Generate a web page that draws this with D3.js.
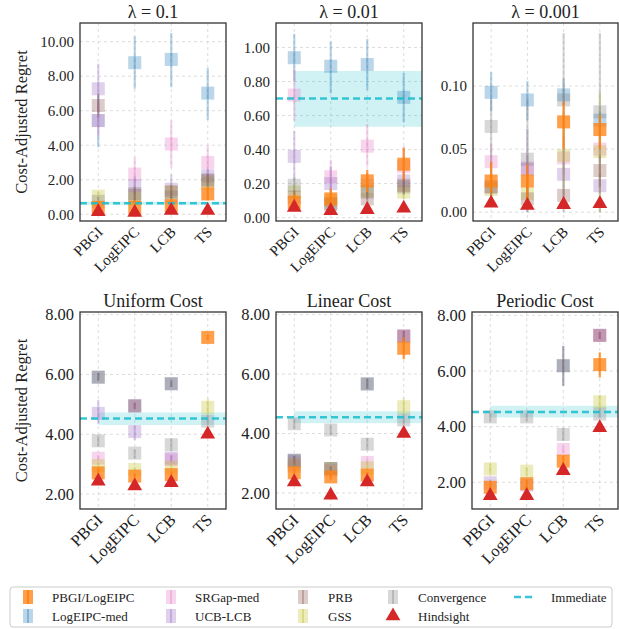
<!DOCTYPE html>
<html><head><meta charset="utf-8">
<script src="https://cdn.jsdelivr.net/npm/d3@7"></script>
<style>body{margin:0;background:#fff} svg text{font-family:"Liberation Serif",serif !important;fill:#222}</style>
</head><body><svg id="c" width="619" height="629" font-family="Liberation Serif"></svg>
<script>
const categories = ["PBGI","LogEIPC","LCB","TS"];
const seriesNames = ["PBGI/LogEIPC","LogEIPC-med","SRGap-med","UCB-LCB","PRB","GSS","Convergence"];
const seriesColors = ["#ff7f0e","#1f77b4","#e377c2","#9467bd","#8c564b","#bcbd22","#7f7f7f"];
const panelTitles = ["λ = 0.1","λ = 0.01","λ = 0.001","Uniform Cost","Linear Cost","Periodic Cost"];
const yTicks1 = [0,2,4,6,8,10];
const yTicks2 = [0,0.2,0.4,0.6,0.8,1.0];
const yTicks3 = [0,0.05,0.10];
const yTicksCost = [2,4,6,8];

// values: rows = series (same order as seriesNames), columns = categories
const val1 = [[0.40,0.40,0.50,1.18],[5.43,8.78,8.97,7.02],[5.43,2.33,4.07,3.00],[7.27,1.65,1.45,2.23],[6.30,1.10,1.30,1.94],[1.05,0.90,1.26,1.80],[0.75,1.20,1.00,2.00]];
const lo1  = [[0.15,0.15,0.20,0.80],[3.88,7.27,7.36,5.47],[4.50,1.40,2.71,2.30],[5.90,1.10,0.90,1.80],[5.60,0.70,0.90,1.60],[0.80,0.60,0.90,1.50],[0.50,0.80,0.70,1.70]];
const hi1  = [[0.75,0.80,0.90,1.60],[6.90,10.30,10.50,8.47],[6.40,3.30,5.43,3.97],[8.72,2.20,2.30,2.60],[7.00,1.50,1.70,2.30],[1.30,1.30,1.80,2.10],[1.00,1.60,1.40,2.30]];
const hind1 = [0.15,0.10,0.22,0.22];
const imm1 = [0.64,0.55,0.73];

const val2 = [[0.09,0.11,0.216,0.314],[0.94,0.89,0.90,0.707],[0.72,0.24,0.42,0.30],[0.36,0.20,0.19,0.216],[0.12,0.08,0.11,0.19],[0.15,0.10,0.157,0.15],[0.19,0.08,0.15,0.18]];
const lo2  = [[0.05,0.05,0.15,0.22],[0.80,0.73,0.75,0.56],[0.57,0.15,0.30,0.25],[0.22,0.12,0.14,0.16],[0.08,0.05,0.07,0.14],[0.10,0.06,0.12,0.11],[0.13,0.05,0.11,0.13]];
const hi2  = [[0.14,0.17,0.28,0.41],[1.08,1.035,1.05,0.85],[0.87,0.34,0.55,0.42],[0.51,0.30,0.26,0.27],[0.16,0.12,0.15,0.24],[0.20,0.14,0.20,0.19],[0.24,0.12,0.20,0.23]];
const hind2 = [0.060,0.040,0.047,0.055];
const imm2 = [0.70,0.534,0.862];

const val3 = [[0.0247,0.0247,0.0716,0.0655],[0.095,0.089,0.093,0.073],[0.040,0.035,0.043,0.050],[0.020,0.034,0.030,0.021],[0.020,0.0106,0.0133,0.033],[0.018,0.0146,0.045,0.048],[0.068,0.042,0.089,0.0796]];
const lo3  = [[0.015,0.008,0.050,0.050],[0.080,0.073,0.085,0.060],[0.030,0.025,0.030,0.040],[0.012,0.000,0.020,0.015],[0.012,0.005,0.005,0.020],[0.010,0.005,0.020,0.000],[0.030,0.000,0.000,0.000]];
const hi3  = [[0.040,0.038,0.0875,0.077],[0.111,0.104,0.106,0.080],[0.054,0.045,0.060,0.060],[0.030,0.066,0.040,0.030],[0.030,0.020,0.020,0.045],[0.030,0.025,0.080,0.095],[0.090,0.090,0.142,0.142]];
const hind3 = [0.007,0.0053,0.006,0.0066];
const imm3 = null;

const val4 = [[2.71,2.60,2.65,7.24],[5.91,4.95,5.69,null],[3.20,4.95,3.15,null],[4.70,4.09,3.20,null],[5.91,4.95,5.69,null],[2.95,2.82,2.90,4.90],[3.78,3.37,3.65,4.44]];
const lo4  = [[2.55,2.50,2.55,7.15],[5.80,4.85,5.58,null],[3.10,4.85,3.05,null],[4.35,3.80,3.10,null],[5.80,4.85,5.58,null],[2.85,2.75,2.80,4.60],[3.60,3.20,3.45,4.30]];
const hi4  = [[2.85,2.70,2.75,7.33],[6.05,5.05,5.80,null],[3.30,5.05,3.30,null],[5.15,4.30,3.30,null],[6.05,5.05,5.80,null],[3.05,2.90,3.00,5.20],[3.95,3.50,3.85,4.60]];
const hind4 = [2.43,2.27,2.38,4.00];
const imm4 = [4.53,4.31,4.73];

const val5 = [[2.68,2.54,2.60,6.87],[3.10,2.82,5.67,null],[2.90,2.75,3.03,7.28],[3.05,null,null,7.28],[3.10,2.82,5.67,7.28],[2.95,2.82,2.85,4.90],[4.33,4.12,3.64,4.46]];
const lo5  = [[2.55,2.45,2.50,6.50],[2.95,2.75,5.50,null],[2.80,2.65,2.95,7.10],[2.90,null,null,7.10],[2.95,2.75,5.50,7.10],[2.85,2.75,2.75,4.60],[4.15,3.95,3.45,4.30]];
const hi5  = [[2.80,2.65,2.70,7.23],[3.25,2.90,5.85,null],[3.00,2.85,3.15,7.45],[3.20,null,null,7.45],[3.25,2.90,5.85,7.45],[3.05,2.90,2.95,5.20],[4.50,4.30,3.85,4.60]];
const hind5 = [2.37,1.92,2.37,4.00];
const imm5 = [4.55,4.35,4.75];

const val6 = [[1.82,1.95,2.76,6.23],[null,null,6.19,null],[null,null,3.18,7.28],[1.98,1.90,null,7.28],[null,null,6.19,7.28],[2.48,2.40,null,4.89],[4.35,4.35,3.72,4.45]];
const lo6  = [[1.65,1.75,2.60,5.77],[null,null,5.47,null],[null,null,3.05,7.15],[1.85,1.75,null,7.15],[null,null,5.47,7.15],[2.30,2.25,null,4.60],[4.20,4.20,3.50,4.30]];
const hi6  = [[2.00,2.10,2.95,6.67],[null,null,6.90,null],[null,null,3.30,7.40],[2.10,2.05,null,7.40],[null,null,6.90,7.40],[2.65,2.55,null,5.15],[4.50,4.50,3.95,4.60]];
const hind6 = [1.52,1.52,2.42,3.96];
const imm6 = [4.53,4.33,4.75];

const panelData = [
  {val:val1,lo:lo1,hi:hi1,hind:hind1,imm:imm1,ticks:yTicks1},
  {val:val2,lo:lo2,hi:hi2,hind:hind2,imm:imm2,ticks:yTicks2},
  {val:val3,lo:lo3,hi:hi3,hind:hind3,imm:imm3,ticks:yTicks3},
  {val:val4,lo:lo4,hi:hi4,hind:hind4,imm:imm4,ticks:yTicksCost},
  {val:val5,lo:lo5,hi:hi5,hind:hind5,imm:imm5,ticks:yTicksCost},
  {val:val6,lo:lo6,hi:hi6,hind:hind6,imm:imm6,ticks:yTicksCost}
];
// layout (positions only)
const layout = [
  {x0:80,x1:226,y0:23,y1:221,dom:[-0.39,11.08],fs:15,band:[-0.5,3.5]},
  {x0:276,x1:422,y0:23,y1:221,dom:[-0.02,1.144],fs:15,band:[0,3.5]},
  {x0:473,x1:618,y0:23,y1:221,dom:[-0.007,0.150],fs:15,band:[0,3.5]},
  {x0:80,x1:226,y0:312,y1:509,dom:[1.5,8.09],fs:16.5,band:[0,3.5]},
  {x0:276,x1:422,y0:312,y1:509,dom:[1.46,8.09],fs:16.5,band:[0,3.5]},
  {x0:472,x1:618,y0:312,y1:509,dom:[1.04,8.12],fs:16.5,band:[0,3.5]}
];
const FONT = '"Liberation Serif", serif';

const svg = d3.select("#c");
const drawOrder = [1,2,3,5,6,4,0];
const sq = 13;

panelData.forEach((pd, pi) => {
  const L = layout[pi];
  const x = d3.scaleLinear().domain([-0.5,3.5]).range([L.x0,L.x1]);
  const y = d3.scaleLinear().domain(L.dom).range([L.y1,L.y0]);
  const g = svg.append("g");
  const clipId = "clip"+pi;
  g.append("clipPath").attr("id",clipId).append("rect")
    .attr("x",L.x0).attr("y",L.y0).attr("width",L.x1-L.x0).attr("height",L.y1-L.y0);
  // grid
  const grid = g.append("g").attr("stroke","#d4d4d4").attr("stroke-width",0.8).attr("stroke-dasharray","3,3");
  pd.ticks.forEach(t => grid.append("line").attr("x1",L.x0).attr("x2",L.x1).attr("y1",y(t)).attr("y2",y(t)));
  categories.forEach((c,i) => grid.append("line").attr("x1",x(i)).attr("x2",x(i)).attr("y1",L.y0).attr("y2",L.y1));
  // y axis
  const ya = d3.axisLeft(y).tickValues(pd.ticks).tickFormat(d3.format(".2f")).tickSize(0).tickPadding(6);
  const yg = g.append("g").attr("transform",`translate(${L.x0},0)`).call(ya).attr("font-family",FONT);
  yg.select(".domain").remove();
  yg.selectAll("text").style("font-size",L.fs+"px").attr("fill","#222").style("font-family",FONT);
  // x axis labels
  const xa = d3.axisBottom(x).tickValues([0,1,2,3]).tickFormat(i=>categories[i]).tickSize(0);
  const xg = g.append("g").attr("transform",`translate(0,${L.y1})`).call(xa).attr("font-family",FONT);
  xg.select(".domain").remove();
  xg.selectAll("text").style("font-size",L.fs+"px").attr("fill","#222").style("font-family",FONT)
    .attr("text-anchor","end").attr("y",0).attr("dy",0)
    .attr("transform","translate(5,12) rotate(-45)");
  const pg = g.append("g").attr("clip-path",`url(#${clipId})`);
  // immediate band
  if (pd.imm) {
    pg.append("rect").attr("x",x(L.band[0])).attr("width",x(L.band[1])-x(L.band[0]))
      .attr("y",y(pd.imm[2])).attr("height",y(pd.imm[1])-y(pd.imm[2]))
      .attr("fill","#17becf").attr("opacity",0.2);
  }
  // series
  drawOrder.forEach(s => {
    const col = seriesColors[s];
    const op = s===0 ? 0.75 : 0.3;
    categories.forEach((c,i) => {
      const v = pd.val[s][i];
      if (v==null) return;
      pg.append("rect").attr("x",x(i)-sq/2).attr("y",y(v)-sq/2).attr("width",sq).attr("height",sq)
        .attr("fill",col).attr("opacity",op);
      pg.append("line").attr("x1",x(i)).attr("x2",x(i)).attr("y1",y(pd.lo[s][i])).attr("y2",y(pd.hi[s][i]))
        .attr("stroke",col).attr("stroke-width",2.2).attr("opacity",s===0?0.8:0.32);
    });
  });
  if (pd.imm) {
    pg.append("line").attr("x1",L.x0).attr("x2",L.x1).attr("y1",y(pd.imm[0])).attr("y2",y(pd.imm[0]))
      .attr("stroke","#17becf").attr("stroke-width",2.5).attr("stroke-dasharray","7,4").attr("opacity",0.85);
  }
  // hindsight
  const tri = d3.symbol().type(d3.symbolTriangle).size(95);
  pd.hind.forEach((v,i) => {
    pg.append("path").attr("d",tri()).attr("transform",`translate(${x(i)},${y(v)})`).attr("fill","#d62728");
  });
  // frame
  g.append("rect").attr("x",L.x0).attr("y",L.y0).attr("width",L.x1-L.x0).attr("height",L.y1-L.y0)
    .attr("fill","none").attr("stroke","#333").attr("stroke-width",1.3);
  // title
  g.append("text").attr("x",(L.x0+L.x1)/2).attr("y",L.y0-5).attr("text-anchor","middle")
    .style("font-size","18px").style("font-family",FONT).text(panelTitles[pi]);
  if (pi===0 || pi===3) {
    g.append("text").attr("transform",`translate(27,${(L.y0+L.y1)/2}) rotate(-90)`)
      .attr("text-anchor","middle").style("font-size","16.5px").style("font-family",FONT).text("Cost-Adjusted Regret");
  }
});

// legend
const lg = svg.append("g");
lg.append("rect").attr("x",10).attr("y",587).attr("width",602).attr("height",40).attr("rx",3)
  .attr("fill","#fff").attr("stroke","#cccccc").attr("stroke-width",1);
const legItems = [
  {name:seriesNames[0],s:0,mx:28,tx:52,row:0},
  {name:seriesNames[1],s:1,mx:28,tx:52,row:1},
  {name:seriesNames[2],s:2,mx:171,tx:195,row:0},
  {name:seriesNames[3],s:3,mx:171,tx:195,row:1},
  {name:seriesNames[4],s:4,mx:303,tx:328,row:0},
  {name:seriesNames[5],s:5,mx:303,tx:328,row:1},
  {name:seriesNames[6],s:6,mx:393,tx:418,row:0},
  {name:"Hindsight",s:-1,mx:393,tx:418,row:1},
  {name:"Immediate",s:-2,mx:525,tx:551,row:0}
];
const rowY = [597,616];
legItems.forEach(it => {
  const cy = rowY[it.row];
  if (it.s>=0) {
    const col = seriesColors[it.s];
    lg.append("rect").attr("x",it.mx-5).attr("y",cy-7).attr("width",10).attr("height",14)
      .attr("fill",col).attr("opacity",it.s===0?0.75:0.3);
    lg.append("line").attr("x1",it.mx).attr("x2",it.mx).attr("y1",cy-7).attr("y2",cy+7)
      .attr("stroke",col).attr("stroke-width",2).attr("opacity",it.s===0?0.8:0.35);
  } else if (it.s===-1) {
    lg.append("path").attr("d",d3.symbol().type(d3.symbolTriangle).size(95)()).attr("transform",`translate(${it.mx},${cy})`).attr("fill","#d62728");
  } else {
    lg.append("line").attr("x1",it.mx-11).attr("x2",it.mx+11).attr("y1",cy).attr("y2",cy)
      .attr("stroke","#17becf").attr("stroke-width",2.5).attr("stroke-dasharray","7,4").attr("opacity",0.85);
  }
  lg.append("text").attr("x",it.tx).attr("y",cy+4.5).style("font-size","13px").style("font-family",FONT).text(it.name);
});
</script></body></html>
